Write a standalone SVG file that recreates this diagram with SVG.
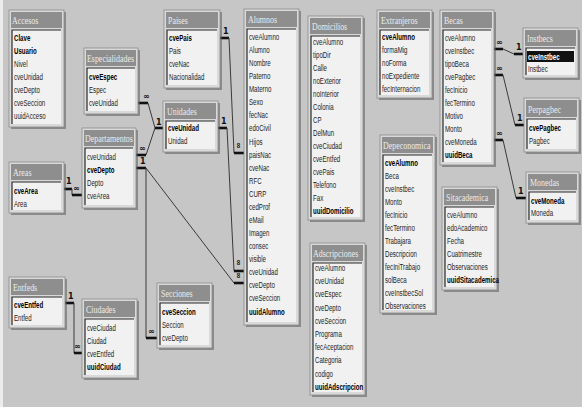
<svg xmlns="http://www.w3.org/2000/svg" width="582" height="407" viewBox="0 0 582 407">
  <style>
    .bg { fill: #c6c6c6; }
    .shadow { fill: #5a5a5a; opacity: 0.55; }
    .frame { fill: #d9d9d9; stroke: #8a8a8a; stroke-width: 0.8; }
    .bar { fill: #8e8e8e; }
    .body { fill: #f1f1f1; }
    .sunk { fill: none; stroke: #2a2a2a; stroke-width: 1.2; }
    .ttl { font-family: "Liberation Serif", "DejaVu Serif", serif; font-size: 11px; fill: #ececec; }
    .fld { font-family: "Liberation Sans", "DejaVu Sans", sans-serif; font-size: 9px; fill: #1c1c1c; }
    .pk { font-weight: bold; fill: #000; }
    .sel { fill: #111; }
    .selt { font-weight: bold; fill: #ffffff; }
    .ln { fill: none; stroke: #3a3a3a; stroke-width: 1; }
    .stub { fill: none; stroke: #111; stroke-width: 2.6; }
    .card { font-family: "DejaVu Sans", "Liberation Sans", sans-serif; font-size: 8px; font-weight: bold; fill: #111; }
  </style>

  <rect class="bg" x="0" y="0" width="582" height="407"/>
  <rect x="0" y="0" width="3" height="407" fill="#ececec"/>

  <!-- relationship lines -->
  <g id="connectors">
    <!-- Especialidades / Departamentos -> Unidades -->
    <path class="stub" d="M138,103 H148"/>
    <path class="ln" d="M148,103 L155,128 L146,155"/>
    <path class="stub" d="M155,128 H163"/>
    <path class="stub" d="M136,155 H146"/>
    <text class="card" x="143" y="99">∞</text>
    <text class="card" x="156" y="125">1</text>
    <text class="card" x="139" y="151">∞</text>

    <!-- Departamentos -> Alumnos.cveDepto and Secciones.cveDepto -->
    <path class="stub" d="M136,168 H146"/>
    <path class="ln" d="M146,168 L234,283"/>
    <path class="stub" d="M234,283 H244"/>
    <path class="ln" d="M146,168 V338"/>
    <path class="stub" d="M146,338 H157"/>
    <text class="card" x="140" y="164">1</text>
    <text class="card" x="148" y="334">∞</text>

    <!-- Unidades -> Alumnos.cveUnidad -->
    <path class="stub" d="M218,128 H227"/>
    <path class="ln" d="M227,128 L234,271"/>
    <path class="stub" d="M234,271 H244"/>
    <text class="card" x="221" y="124">1</text>

    <!-- Paises -> Alumnos.paisNac -->
    <path class="stub" d="M220,38 H229"/>
    <path class="ln" d="M229,38 L234,153"/>
    <path class="stub" d="M234,153 H244"/>
    <text class="card" x="223" y="34">1</text>

    <!-- many-side marks beside Alumnos -->
    <text class="card" transform="translate(236,142) rotate(90)">∞</text>
    <text class="card" transform="translate(236,259) rotate(90)">∞</text>
    <text class="card" transform="translate(236,272) rotate(90)">∞</text>

    <!-- Areas -> Departamentos.cveArea -->
    <path class="stub" d="M64,189 H72"/>
    <path class="ln" d="M72,189 V195"/>
    <path class="stub" d="M72,195 H82"/>
    <text class="card" x="66" y="184">1</text>
    <text class="card" x="73" y="191">∞</text>

    <!-- Entfeds -> Ciudades.cveEntfed -->
    <path class="stub" d="M65,303 H74"/>
    <path class="ln" d="M74,303 V353"/>
    <path class="stub" d="M74,353 H82"/>
    <text class="card" x="68" y="299">1</text>
    <text class="card" x="74" y="349">∞</text>

    <!-- Becas -> Instbecs -->
    <path class="stub" d="M494,49 H503"/>
    <path class="ln" d="M503,49 L514,54"/>
    <path class="stub" d="M514,54 H523"/>
    <text class="card" x="496" y="45">∞</text>
    <text class="card" x="516" y="50">1</text>

    <!-- Becas -> Perpagbec -->
    <path class="stub" d="M494,75 H503"/>
    <path class="ln" d="M503,75 L515,125"/>
    <path class="stub" d="M515,125 H524"/>
    <text class="card" x="496" y="71">∞</text>
    <text class="card" x="517" y="121">1</text>

    <!-- Becas -> Monedas -->
    <path class="stub" d="M494,140 H503"/>
    <path class="ln" d="M503,140 L516,198"/>
    <path class="stub" d="M516,198 H526"/>
    <text class="card" x="496" y="136">∞</text>
    <text class="card" x="518" y="194">1</text>
  </g>

  <!-- Accesos -->
  <g id="accesos">
    <rect class="shadow" x="11" y="12" width="55" height="117"/>
    <rect class="frame" x="9" y="10" width="55" height="117"/>
    <rect class="bar" x="11" y="12" width="51" height="16"/>
    <rect class="body" x="12" y="30" width="49" height="94"/>
    <path class="sunk" d="M12,124 V30 H61"/>
    <g transform="translate(12,0) scale(0.72,1)"><text class="ttl" x="0" y="24">Accesos</text></g>
    <g class="fld" transform="translate(14,0) scale(0.68,1)">
      <text class="pk" y="41">Clave</text>
      <text class="pk" y="54">Usuario</text>
      <text y="67">Nivel</text>
      <text y="80">cveUnidad</text>
      <text y="93">cveDepto</text>
      <text y="106">cveSeccion</text>
      <text y="119">uuidAcceso</text>
    </g>
  </g>

  <!-- Especialidades -->
  <g id="especialidades">
    <rect class="shadow" x="86" y="50" width="54" height="66"/>
    <rect class="frame" x="84" y="48" width="54" height="66"/>
    <rect class="bar" x="86" y="50" width="50" height="16"/>
    <rect class="body" x="87" y="68" width="48" height="43"/>
    <path class="sunk" d="M87,111 V68 H135"/>
    <g transform="translate(87,0) scale(0.72,1)"><text class="ttl" x="0" y="62">Especialidades</text></g>
    <g class="fld" transform="translate(89,0) scale(0.68,1)">
      <text class="pk" y="80">cveEspec</text>
      <text y="93">Espec</text>
      <text y="106">cveUnidad</text>
    </g>
  </g>

  <!-- Paises -->
  <g id="paises">
    <rect class="shadow" x="166" y="12" width="56" height="78"/>
    <rect class="frame" x="164" y="10" width="56" height="78"/>
    <rect class="bar" x="166" y="12" width="52" height="16"/>
    <rect class="body" x="167" y="30" width="50" height="55"/>
    <path class="sunk" d="M167,85 V30 H217"/>
    <g transform="translate(168,0) scale(0.72,1)"><text class="ttl" x="0" y="24">Paises</text></g>
    <g class="fld" transform="translate(169,0) scale(0.68,1)">
      <text class="pk" y="41">cvePais</text>
      <text y="54">Pais</text>
      <text y="67">cveNac</text>
      <text y="80">Nacionalidad</text>
    </g>
  </g>

  <!-- Unidades -->
  <g id="unidades">
    <rect class="shadow" x="165" y="103" width="55" height="51"/>
    <rect class="frame" x="163" y="101" width="55" height="51"/>
    <rect class="bar" x="165" y="103" width="51" height="16"/>
    <rect class="body" x="166" y="121" width="49" height="28"/>
    <path class="sunk" d="M166,149 V121 H215"/>
    <g transform="translate(167,0) scale(0.72,1)"><text class="ttl" x="0" y="115">Unidades</text></g>
    <g class="fld" transform="translate(168,0) scale(0.68,1)">
      <text class="pk" y="131">cveUnidad</text>
      <text y="144">Unidad</text>
    </g>
  </g>

  <!-- Departamentos -->
  <g id="departamentos">
    <rect class="shadow" x="84" y="130" width="54" height="80"/>
    <rect class="frame" x="82" y="128" width="54" height="80"/>
    <rect class="bar" x="84" y="130" width="50" height="16"/>
    <rect class="body" x="85" y="148" width="48" height="57"/>
    <path class="sunk" d="M85,205 V148 H133"/>
    <g transform="translate(85,0) scale(0.72,1)"><text class="ttl" x="0" y="142">Departamentos</text></g>
    <g class="fld" transform="translate(87,0) scale(0.68,1)">
      <text y="160">cveUnidad</text>
      <text class="pk" y="173">cveDepto</text>
      <text y="186">Depto</text>
      <text y="199">cveArea</text>
    </g>
  </g>

  <!-- Areas -->
  <g id="areas">
    <rect class="shadow" x="11" y="164" width="55" height="51"/>
    <rect class="frame" x="9" y="162" width="55" height="51"/>
    <rect class="bar" x="11" y="164" width="51" height="16"/>
    <rect class="body" x="12" y="182" width="49" height="28"/>
    <path class="sunk" d="M12,210 V182 H61"/>
    <g transform="translate(13,0) scale(0.72,1)"><text class="ttl" x="0" y="176">Areas</text></g>
    <g class="fld" transform="translate(14,0) scale(0.68,1)">
      <text class="pk" y="194">cveArea</text>
      <text y="207">Area</text>
    </g>
  </g>

  <!-- Entfeds -->
  <g id="entfeds">
    <rect class="shadow" x="11" y="279" width="56" height="51"/>
    <rect class="frame" x="9" y="277" width="56" height="51"/>
    <rect class="bar" x="11" y="279" width="52" height="16"/>
    <rect class="body" x="12" y="297" width="50" height="28"/>
    <path class="sunk" d="M12,325 V297 H62"/>
    <g transform="translate(13,0) scale(0.72,1)"><text class="ttl" x="0" y="291">Entfeds</text></g>
    <g class="fld" transform="translate(14,0) scale(0.68,1)">
      <text class="pk" y="308">cveEntfed</text>
      <text y="321">Entfed</text>
    </g>
  </g>

  <!-- Ciudades -->
  <g id="ciudades">
    <rect class="shadow" x="84" y="301" width="55" height="79"/>
    <rect class="frame" x="82" y="299" width="55" height="79"/>
    <rect class="bar" x="84" y="301" width="51" height="16"/>
    <rect class="body" x="85" y="319" width="49" height="56"/>
    <path class="sunk" d="M85,375 V319 H134"/>
    <g transform="translate(86,0) scale(0.72,1)"><text class="ttl" x="0" y="313">Ciudades</text></g>
    <g class="fld" transform="translate(87,0) scale(0.68,1)">
      <text y="331">cveCiudad</text>
      <text y="344">Ciudad</text>
      <text y="357">cveEntfed</text>
      <text class="pk" y="370">uuidCiudad</text>
    </g>
  </g>

  <!-- Secciones -->
  <g id="secciones">
    <rect class="shadow" x="159" y="285" width="55" height="65"/>
    <rect class="frame" x="157" y="283" width="55" height="65"/>
    <rect class="bar" x="159" y="285" width="51" height="16"/>
    <rect class="body" x="160" y="303" width="49" height="42"/>
    <path class="sunk" d="M160,345 V303 H209"/>
    <g transform="translate(161,0) scale(0.72,1)"><text class="ttl" x="0" y="297">Secciones</text></g>
    <g class="fld" transform="translate(162,0) scale(0.68,1)">
      <text class="pk" y="315">cveSeccion</text>
      <text y="328">Seccion</text>
      <text y="341">cveDepto</text>
    </g>
  </g>

  <!-- Alumnos -->
  <g id="alumnos">
    <rect class="shadow" x="246" y="11" width="55" height="316"/>
    <rect class="frame" x="244" y="9" width="55" height="316"/>
    <rect class="bar" x="246" y="11" width="51" height="16"/>
    <rect class="body" x="247" y="29" width="49" height="293"/>
    <path class="sunk" d="M247,322 V29 H296"/>
    <g transform="translate(248,0) scale(0.72,1)"><text class="ttl" x="0" y="23">Alumnos</text></g>
    <g class="fld" transform="translate(249,0) scale(0.68,1)">
      <text y="40">cveAlumno</text>
      <text y="53">Alumno</text>
      <text y="66">Nombre</text>
      <text y="79">Paterno</text>
      <text y="92">Materno</text>
      <text y="105">Sexo</text>
      <text y="118">fecNac</text>
      <text y="131">edoCivil</text>
      <text y="145">Hijos</text>
      <text y="158">paisNac</text>
      <text y="171">cveNac</text>
      <text y="184">RFC</text>
      <text y="197">CURP</text>
      <text y="210">cedProf</text>
      <text y="223">eMail</text>
      <text y="236">Imagen</text>
      <text y="249">consec</text>
      <text y="262">visible</text>
      <text y="275">cveUnidad</text>
      <text y="288">cveDepto</text>
      <text y="301">cveSeccion</text>
      <text class="pk" y="315">uuidAlumno</text>
    </g>
  </g>

  <!-- Domicilios -->
  <g id="domicilios">
    <rect class="shadow" x="310" y="18" width="55" height="204"/>
    <rect class="frame" x="308" y="16" width="55" height="204"/>
    <rect class="bar" x="310" y="18" width="51" height="16"/>
    <rect class="body" x="311" y="36" width="49" height="181"/>
    <path class="sunk" d="M311,217 V36 H360"/>
    <g transform="translate(312,0) scale(0.72,1)"><text class="ttl" x="0" y="30">Domicilios</text></g>
    <g class="fld" transform="translate(313,0) scale(0.68,1)">
      <text y="45">cveAlumno</text>
      <text y="58">tipoDir</text>
      <text y="71">Calle</text>
      <text y="84">noExterior</text>
      <text y="97">noInterior</text>
      <text y="110">Colonia</text>
      <text y="123">CP</text>
      <text y="136">DelMun</text>
      <text y="149">cveCiudad</text>
      <text y="162">cveEntfed</text>
      <text y="175">cvePais</text>
      <text y="188">Telefono</text>
      <text y="201">Fax</text>
      <text class="pk" y="214">uuidDomicilio</text>
    </g>
  </g>

  <!-- Adscripciones -->
  <g id="adscripciones">
    <rect class="shadow" x="312" y="245" width="55" height="152"/>
    <rect class="frame" x="310" y="243" width="55" height="152"/>
    <rect class="bar" x="312" y="245" width="51" height="16"/>
    <rect class="body" x="313" y="263" width="49" height="129"/>
    <path class="sunk" d="M313,392 V263 H362"/>
    <g transform="translate(313,0) scale(0.72,1)"><text class="ttl" x="0" y="257">Adscripciones</text></g>
    <g class="fld" transform="translate(315,0) scale(0.68,1)">
      <text y="271">cveAlumno</text>
      <text y="284">cveUnidad</text>
      <text y="297">cveEspec</text>
      <text y="311">cveDepto</text>
      <text y="324">cveSeccion</text>
      <text y="337">Programa</text>
      <text y="350">fecAceptacion</text>
      <text y="363">Categoria</text>
      <text y="377">codigo</text>
      <text class="pk" y="390">uuidAdscripcion</text>
    </g>
  </g>

  <!-- Extranjeros -->
  <g id="extranjeros">
    <rect class="shadow" x="379" y="12" width="55" height="88"/>
    <rect class="frame" x="377" y="10" width="55" height="88"/>
    <rect class="bar" x="379" y="12" width="51" height="16"/>
    <rect class="body" x="380" y="30" width="49" height="65"/>
    <path class="sunk" d="M380,95 V30 H429"/>
    <g transform="translate(381,0) scale(0.72,1)"><text class="ttl" x="0" y="24">Extranjeros</text></g>
    <g class="fld" transform="translate(382,0) scale(0.68,1)">
      <text class="pk" y="40">cveAlumno</text>
      <text y="53">formaMig</text>
      <text y="66">noForma</text>
      <text y="79">noExpediente</text>
      <text y="92">fecInternacion</text>
    </g>
  </g>

  <!-- Becas -->
  <g id="becas">
    <rect class="shadow" x="442" y="12" width="54" height="155"/>
    <rect class="frame" x="440" y="10" width="54" height="155"/>
    <rect class="bar" x="442" y="12" width="50" height="16"/>
    <rect class="body" x="443" y="30" width="48" height="132"/>
    <path class="sunk" d="M443,162 V30 H491"/>
    <g transform="translate(444,0) scale(0.72,1)"><text class="ttl" x="0" y="24">Becas</text></g>
    <g class="fld" transform="translate(445,0) scale(0.68,1)">
      <text y="41">cveAlumno</text>
      <text y="54">cveInstbec</text>
      <text y="67">tipoBeca</text>
      <text y="80">cvePagbec</text>
      <text y="93">fecInicio</text>
      <text y="106">fecTermino</text>
      <text y="119">Motivo</text>
      <text y="132">Monto</text>
      <text y="145">cveMoneda</text>
      <text class="pk" y="158">uuidBeca</text>
    </g>
  </g>

  <!-- Instbecs -->
  <g id="instbecs">
    <rect class="shadow" x="525" y="30" width="55" height="50"/>
    <rect class="frame" x="523" y="28" width="55" height="50"/>
    <rect class="bar" x="525" y="30" width="51" height="16"/>
    <rect class="body" x="526" y="48" width="49" height="27"/>
    <rect class="sel" x="527" y="51" width="47" height="11"/>
    <path class="sunk" d="M526,75 V48 H575"/>
    <g transform="translate(527,0) scale(0.72,1)"><text class="ttl" x="0" y="42">Instbecs</text></g>
    <g class="fld" transform="translate(528,0) scale(0.68,1)">
      <text class="selt" y="60">cveInstbec</text>
      <text y="72">Instbec</text>
    </g>
  </g>

  <!-- Perpagbec -->
  <g id="perpagbec">
    <rect class="shadow" x="526" y="100" width="55" height="54"/>
    <rect class="frame" x="524" y="98" width="55" height="54"/>
    <rect class="bar" x="526" y="100" width="51" height="17"/>
    <rect class="body" x="527" y="119" width="49" height="30"/>
    <path class="sunk" d="M527,149 V119 H576"/>
    <g transform="translate(528,0) scale(0.72,1)"><text class="ttl" x="0" y="113">Perpagbec</text></g>
    <g class="fld" transform="translate(529,0) scale(0.68,1)">
      <text class="pk" y="131">cvePagbec</text>
      <text y="144">Pagbec</text>
    </g>
  </g>

  <!-- Monedas -->
  <g id="monedas">
    <rect class="shadow" x="528" y="174" width="53" height="51"/>
    <rect class="frame" x="526" y="172" width="53" height="51"/>
    <rect class="bar" x="528" y="174" width="49" height="16"/>
    <rect class="body" x="529" y="192" width="47" height="28"/>
    <path class="sunk" d="M529,220 V192 H576"/>
    <g transform="translate(530,0) scale(0.72,1)"><text class="ttl" x="0" y="186">Monedas</text></g>
    <g class="fld" transform="translate(531,0) scale(0.68,1)">
      <text class="pk" y="204">cveMoneda</text>
      <text y="216">Moneda</text>
    </g>
  </g>

  <!-- Depeconomica -->
  <g id="depeconomica">
    <rect class="shadow" x="382" y="137" width="55" height="178"/>
    <rect class="frame" x="380" y="135" width="55" height="178"/>
    <rect class="bar" x="382" y="137" width="51" height="16"/>
    <rect class="body" x="383" y="155" width="49" height="155"/>
    <path class="sunk" d="M383,310 V155 H432"/>
    <g transform="translate(383,0) scale(0.72,1)"><text class="ttl" x="0" y="149">Depeconomica</text></g>
    <g class="fld" transform="translate(385,0) scale(0.68,1)">
      <text class="pk" y="166">cveAlumno</text>
      <text y="179">Beca</text>
      <text y="192">cveInstbec</text>
      <text y="205">Monto</text>
      <text y="218">fecInicio</text>
      <text y="231">fecTermino</text>
      <text y="244">Trabajara</text>
      <text y="257">Descripcion</text>
      <text y="270">fecIniTrabajo</text>
      <text y="283">solBeca</text>
      <text y="296">cveInstbecSol</text>
      <text y="309">Observaciones</text>
    </g>
  </g>

  <!-- Sitacademica -->
  <g id="sitacademica">
    <rect class="shadow" x="444" y="189" width="55" height="103"/>
    <rect class="frame" x="442" y="187" width="55" height="103"/>
    <rect class="bar" x="444" y="189" width="51" height="16"/>
    <rect class="body" x="445" y="207" width="49" height="80"/>
    <path class="sunk" d="M445,287 V207 H494"/>
    <g transform="translate(446,0) scale(0.72,1)"><text class="ttl" x="0" y="201">Sitacademica</text></g>
    <g class="fld" transform="translate(447,0) scale(0.68,1)">
      <text y="218">cveAlumno</text>
      <text y="231">edoAcademico</text>
      <text y="244">Fecha</text>
      <text y="257">Cuatrimestre</text>
      <text y="270">Observaciones</text>
      <text class="pk" y="283">uuidSitacademica</text>
    </g>
  </g>
</svg>
